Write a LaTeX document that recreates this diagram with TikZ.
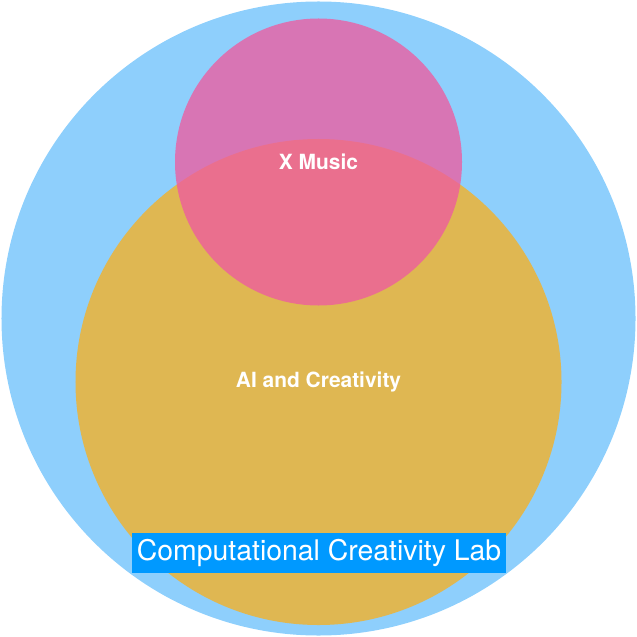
\documentclass[tikz,border=0pt]{standalone}
\usepackage{fontspec}
\setmainfont{TeX Gyre Heros}
\usetikzlibrary{positioning}
\definecolor{labblue}{HTML}{8ECFFC}
\definecolor{aigold}{HTML}{DFB752}
\definecolor{musicpink}{HTML}{EE5CA0}
\definecolor{tagblue}{HTML}{0099FF}
\tikzstyle{region} = [circle, inner sep=0pt, text=white, font=\bfseries\fontsize{21}{24}\selectfont]
\tikzstyle{tag} = [rectangle, fill=tagblue, text=white, inner xsep=4.5bp,
    minimum height=40bp, font=\fontsize{28.5}{32}\selectfont]

\begin{document}
\begin{tikzpicture}[x=1bp,y=-1bp]
  \useasboundingbox (0,0) rectangle (637,637);

  \node[region,fill=labblue,minimum size=634bp] (CCL) at (318.5,318.5) {};
  \node[region,fill=aigold,minimum size=486bp]  (AIC) at (318.5,382) {\raisebox{-2bp}{AI and Creativity}};
  \node[region,fill=musicpink,fill opacity=0.78,text opacity=1,minimum size=287bp]
        (XM) at (318.5,162) {\raisebox{-2bp}{X Music}};

  \node[tag] (CCLtag) at (319,553) {Computational Creativity Lab};
\end{tikzpicture}
\end{document}
